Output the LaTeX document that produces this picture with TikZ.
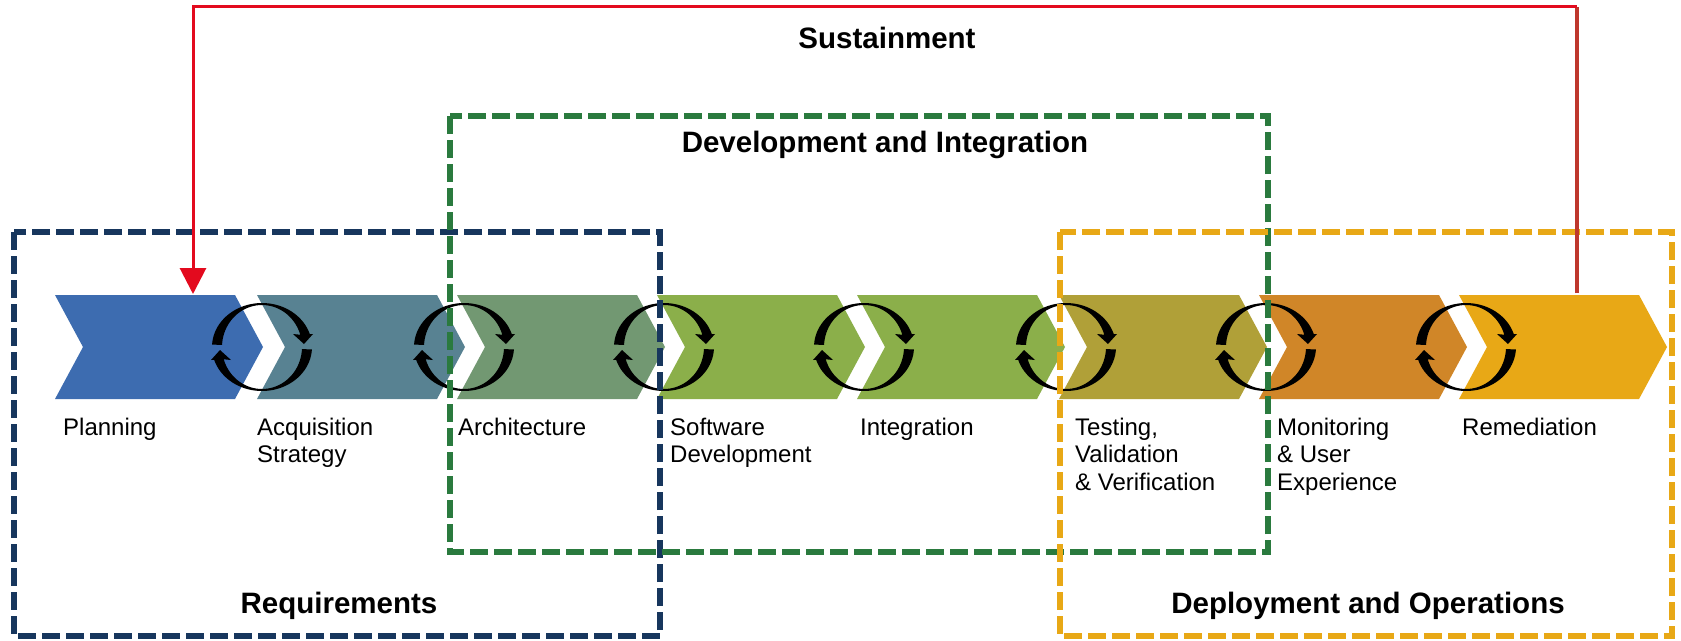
\documentclass[tikz,border=0pt]{standalone}
\usepackage{fontspec}
\setmainfont{Liberation Sans}
\usetikzlibrary{arrows.meta}
\definecolor{planC}{RGB}{61,108,176}
\definecolor{acqC}{RGB}{88,130,146}
\definecolor{archC}{RGB}{114,152,114}
\definecolor{swC}{RGB}{139,175,74}
\definecolor{intC}{RGB}{139,175,74}
\definecolor{testC}{RGB}{176,160,56}
\definecolor{monC}{RGB}{208,134,40}
\definecolor{remC}{RGB}{232,168,22}
\definecolor{blueD}{RGB}{23,54,93}
\definecolor{greenD}{RGB}{42,122,62}
\definecolor{orangeD}{RGB}{232,168,22}
\definecolor{redL}{RGB}{227,10,30}
\definecolor{redR}{RGB}{190,55,45}
\newcommand{\chev}[2]{\fill[#2] (#1,295) -- ++(180,0) -- ++(28,52) -- ++(-28,52) -- ++(-180,0) -- ++(28,-52) -- cycle;}
\newcommand{\cycarrow}[1]{%
 \begin{scope}[shift={(#1,347)}]
 \fill[black] plot[domain=177:17,samples=40] ({50*cos(\x)},{-44*sin(\x)}) -- (51,-13) -- (42,-3) -- (31,-13) -- plot[domain=17:177,samples=40] ({40*cos(\x)},{-42*sin(\x)}) -- cycle;
 \fill[black] plot[domain=-3:-163,samples=40] ({50*cos(\x)},{-44*sin(\x)}) -- (-51,13) -- (-42,3) -- (-31,13) -- plot[domain=-163:-3,samples=40] ({40*cos(\x)},{-42*sin(\x)}) -- cycle;
 \end{scope}}
\tikzset{
  lbl/.style={anchor=base west, inner sep=0pt, align=left, font=\fontsize{24}{27.5}\selectfont},
  ttl/.style={anchor=base, inner sep=0pt, font=\fontsize{29.5}{35}\selectfont\bfseries},
  dbox/.style={line width=5.5pt, dash pattern=on 18pt off 6pt},
}
\begin{document}
\begin{tikzpicture}[x=1pt,y=-1pt]
\useasboundingbox (0,0) rectangle (1681,640);
\fill[white] (0,0) rectangle (1681,640);
% chevrons
\chev{55}{planC}
\chev{257}{acqC}
\chev{457}{archC}
\chev{657}{swC}
\chev{857}{intC}
\chev{1059}{testC}
\chev{1259}{monC}
\chev{1459}{remC}
% cycle arrows
\cycarrow{262}
\cycarrow{464}
\cycarrow{664}
\cycarrow{864}
\cycarrow{1066}
\cycarrow{1266}
\cycarrow{1466}
% labels (base anchor = baseline of last line)
\node[lbl] (l1) at (63,435) {Planning};
\node[lbl] (l2) at (257,462.5) {Acquisition\\Strategy};
\node[lbl] (l3) at (458,435) {Architecture};
\node[lbl] (l4) at (670,462.5) {Software\\Development};
\node[lbl] (l5) at (860,435) {Integration};
\node[lbl] (l6) at (1075,490) {Testing,\\Validation\\\& Verification};
\node[lbl] (l7) at (1277,490) {Monitoring\\\& User\\Experience};
\node[lbl] (l8) at (1462,435) {Remediation};
% boxes
\draw[dbox, blueD] (14,232) rectangle (660,636);
\draw[dbox, greenD] (450,116) rectangle (1268,552);
\draw[dbox, orangeD] (1060,232) rectangle (1672,636);
% titles
\node[ttl] (tS) at (887,48) {Sustainment};
\node[ttl] (tD) at (885,152) {Development and Integration};
\node[ttl] (tR) at (339,613) {Requirements};
\node[ttl] (tO) at (1368,613) {Deployment and Operations};
% sustainment loop
\coordinate (remtop) at (1577,293);
\coordinate (rcorner) at (1577,6);
\coordinate (plantop) at (193,294);
\draw[redR, line width=3.5pt] (remtop) -- ([yshift=-1pt]rcorner);
\draw[redL, line width=3pt, -{Triangle[width=26pt,length=26pt]}] (rcorner) -| (plantop);
\end{tikzpicture}
\end{document}
